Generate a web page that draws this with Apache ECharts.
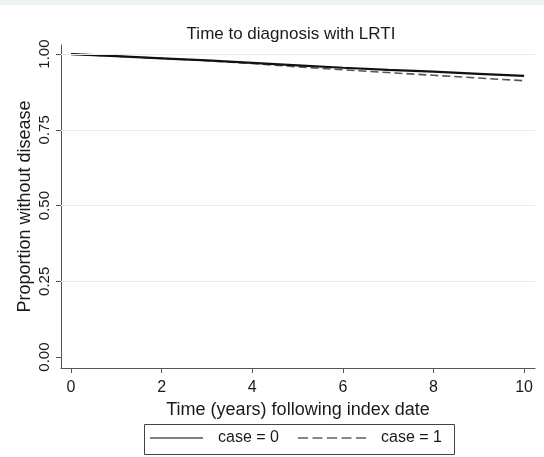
<!DOCTYPE html>
<html>
<head>
<meta charset="utf-8">
<script src="https://cdn.jsdelivr.net/npm/echarts@6/dist/echarts.min.js"></script>
<style>
  html, body { margin: 0; padding: 0; background: #ffffff; }
  #chart { width: 544px; height: 457px; }
</style>
</head>
<body>
<div id="chart"></div>
<script>
// Survival (proportion without disease) by year since index date
const years = [0, 1, 2, 3, 4, 5, 6, 7, 8, 9, 10];
const case0 = [1.000, 0.993, 0.986, 0.979, 0.971, 0.963, 0.955, 0.948, 0.942, 0.935, 0.928];
const case1 = [1.000, 0.993, 0.986, 0.978, 0.969, 0.958, 0.948, 0.939, 0.930, 0.921, 0.912];
const xTicks = [0, 2, 4, 6, 8, 10];
const yTicks = [0, 0.25, 0.5, 0.75, 1];

const FONT = 'Liberation Sans, Arial, sans-serif';
const TEXT = '#1a1a1a';
const pairs = (ys) => years.map((t, i) => [t, ys[i]]);

// legend key glyphs: a solid rule and a five-dash rule
const SOLID_KEY = 'path://M0,0h53v1h-53z';
const DASH_KEY = 'path://M0,0h10v1h-10zM14.5,0h10v1h-10zM29,0h10v1h-10zM43.5,0h10v1h-10zM58,0h10v1h-10z';

const legendBase = {
  top: 430, orient: 'horizontal', padding: 0,
  itemHeight: 2,
  textStyle: { fontFamily: FONT, fontSize: 16, color: TEXT, padding: [0, 0, 0, 10] }
};

const chart = echarts.init(document.getElementById('chart'), null, { renderer: 'canvas' });
chart.setOption({
  animation: false,
  backgroundColor: '#ffffff',
  title: {
    text: 'Time to diagnosis with LRTI',
    left: 286, top: 21, textAlign: 'center',
    textStyle: { fontFamily: FONT, fontWeight: 'normal', fontSize: 17, color: TEXT }
  },
  graphic: [
    {
      type: 'rect', left: 0, top: 0,
      shape: { width: 544, height: 5 },
      style: { fill: '#eef3f3' }, silent: true
    },
    {
      // frame round the legend keys
      type: 'rect', left: 142, top: 422,
      shape: { width: 310, height: 30 },
      style: { fill: 'none', stroke: '#444', lineWidth: 1 }, silent: true
    }
  ],
  grid: { left: 61, right: 9, top: 45, bottom: 89 },
  legend: [
    Object.assign({}, legendBase, {
      left: 150, itemWidth: 53,
      data: [{ name: 'case = 0', icon: SOLID_KEY, itemStyle: { color: '#000', borderWidth: 0 } }]
    }),
    Object.assign({}, legendBase, {
      left: 298, itemWidth: 68,
      data: [{ name: 'case = 1', icon: DASH_KEY, itemStyle: { color: '#111', borderWidth: 0 } }]
    })
  ],
  xAxis: {
    type: 'value', min: -0.22, max: 10.24,
    axisLine: { show: true, onZero: false, lineStyle: { color: '#555', width: 1 } },
    axisTick: { show: true, length: 5, customValues: xTicks, lineStyle: { color: '#555' } },
    axisLabel: { customValues: xTicks, margin: 12, fontFamily: FONT, fontSize: 16, color: TEXT },
    splitLine: { show: false },
    name: 'Time (years) following index date',
    nameLocation: 'middle', nameGap: 33, nameMoveOverlap: false,
    nameTextStyle: { fontFamily: FONT, fontSize: 18, color: TEXT }
  },
  yAxis: {
    type: 'value', min: -0.036, max: 1.03,
    axisLine: { show: true, onZero: false, lineStyle: { color: '#555', width: 1 } },
    axisTick: { show: true, length: 5, customValues: yTicks, lineStyle: { color: '#555' } },
    axisLabel: {
      customValues: yTicks, rotate: 90, margin: 9,
      formatter: (v) => v.toFixed(2),
      fontFamily: FONT, fontSize: 15, color: TEXT
    },
    splitLine: { show: false },
    name: 'Proportion without disease',
    nameLocation: 'middle', nameGap: 27, nameMoveOverlap: false,
    nameTextStyle: { fontFamily: FONT, fontSize: 18, color: TEXT }
  },
  series: [
    {
      // light horizontal reference lines at the labelled y ticks
      type: 'line', silent: true, symbol: 'none', data: [],
      markLine: {
        silent: true, symbol: 'none', label: { show: false },
        lineStyle: { color: '#ebebeb', width: 1, type: 'solid' },
        data: [0.25, 0.5, 0.75, 1].map(v => ({ yAxis: v }))
      }
    },
    {
      name: 'case = 0', type: 'line', symbol: 'none', data: pairs(case0),
      lineStyle: { color: '#111', width: 2.2, type: 'solid' }, z: 4
    },
    {
      name: 'case = 1', type: 'line', symbol: 'none', data: pairs(case1),
      lineStyle: { color: '#555', width: 1.6, type: [8, 4] }, z: 3
    }
  ]
});
</script>
</body>
</html>
